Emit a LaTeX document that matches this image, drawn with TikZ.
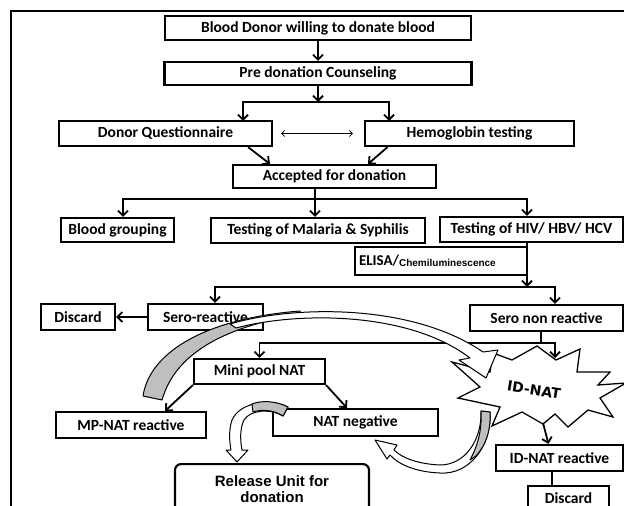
\documentclass[tikz,border=0pt]{standalone}
\usepackage{fontspec}
\setmainfont{Carlito}
\newfontfamily\arialfont{Liberation Sans}
\newfontfamily\heavyfont{DejaVu Sans}
\usetikzlibrary{calc, positioning, arrows.meta}

\tikzset{
    box/.style={draw, line width=2.2pt, minimum height=25pt, inner sep=2pt,
        font=\fontsize{15.5}{17}\selectfont\bfseries},
    arr/.style={line width=1.8pt, -{Straight Barb[length=5pt,width=10pt]}},
    joinline/.style={line width=1.8pt},
    twoway/.style={line width=0.8pt,
        {Straight Barb[length=3pt,width=6pt]}-{Straight Barb[length=3pt,width=6pt]}},
    ribbon/.style={draw, line width=1pt, fill=white, line join=round},
    underside/.style={draw, line width=1pt, fill=gray!50, line join=round}
}

\begin{document}
\begin{tikzpicture}[x=1pt, y=-1pt]

\clip (0,0) rectangle (624,506);
\draw[line width=2pt] (11,506) -- (11,11) -- (624,11);

% boxes
\node[box, minimum width=306pt, minimum height=24pt] (blood) at (318,28) {Blood Donor willing to donate blood};
\node[box, minimum width=307pt, minimum height=23pt] (counsel) at (318,73.5) {Pre donation Counseling};
\node[box, minimum width=213pt] (quest) at (165.5,133.5) {Donor Questionnaire};
\node[box, minimum width=209pt] (hemo) at (469.5,133.5) {Hemoglobin testing};
\node[box, minimum width=203pt, minimum height=23pt] (accept) at (334.5,176.5) {Accepted for donation};
\node[box, minimum width=113pt, minimum height=24pt] (group) at (117.5,230) {Blood grouping};
\node[box, minimum width=214pt] (malaria) at (318,230.5) {Testing of Malaria \& Syphilis};
\node[box, minimum width=183pt] (hiv) at (531.5,229.5) {Testing of HIV/ HBV/ HCV};
\node[box, minimum width=172pt, minimum height=28pt] (elisa) at (441,261)
    {\makebox[164pt][l]{\fontsize{15}{16}\selectfont ELISA/\raisebox{-1.5pt}{\arialfont\fontsize{10}{12}\selectfont Chemiluminescence}}};
\node[box, minimum width=74pt, minimum height=26pt] (discardA) at (78,317) {Discard};
\node[box, minimum width=115pt, minimum height=26pt] (sero) at (205.5,317) {Sero-reactive};
\node[box, minimum width=153pt, minimum height=26pt] (seronon) at (546.5,318) {Sero non reactive};
\node[box, minimum width=131pt] (minipool) at (259.5,371.5) {Mini pool NAT};
\node[box, minimum width=150pt, minimum height=26pt] (mpnat) at (131,425) {MP-NAT reactive};
\node[box, minimum width=165pt, minimum height=27pt] (natneg) at (355.5,422.5) {NAT negative};
\node[box, rounded corners=6pt, minimum width=194pt, minimum height=50pt, anchor=north, align=center,
    font=\arialfont\fontsize{15}{16}\selectfont\bfseries] (release) at (272,463) {Release Unit for\\donation};
\node[box, minimum width=127pt, minimum height=26pt] (idnatr) at (559.5,458) {ID-NAT reactive};
\node[box, minimum width=81pt, minimum height=24pt, anchor=north] (discardB) at (568.5,485) {Discard};

% the ID-NAT burst
\draw[line width=1.3pt, fill=white, line join=miter]
    (452,362) -- (490,372) -- (493,353) -- (512,360) -- (537,346) -- (556,360)
    -- (580,349) -- (577,372) -- (610,372) -- (598,385) -- (626,383) -- (600,398)
    -- (613,417) -- (588,410) -- (568,427) -- (555,414) -- (543,424) -- (522,412)
    -- (492,426) -- (500,407) -- (458,398) -- (480,387) -- cycle;
\node[rotate=-9, font=\heavyfont\fontsize{14}{14}\selectfont\bfseries] (idnat) at (534,390) {ID-NAT};

% junctions and free ends
\coordinate (split1) at (318,102);
\coordinate (questtop) at (243,121);
\coordinate (hemotop) at (389,121);
\coordinate (acc1) at (270,164);
\coordinate (acc2) at (368,164);
\coordinate (split2) at (315,199);
\coordinate (split3) at (527,287);
\coordinate (split4) at (541,343);
\coordinate (idnattop) at (555,358);
\coordinate (mp1) at (165,411);
\coordinate (nn1) at (347,408);
\coordinate (idb) at (543,423);

\foreach \from/\to in {blood/counsel, sero/discardA}
{
    \draw[arr] (\from) -- (\to);
};

\draw[arr] (counsel.south) -- (split1);
\draw[joinline] (questtop |- split1) -- (hemotop |- split1);
\draw[arr] (split1) -| (questtop);
\draw[arr] (split1) -| (hemotop);
\draw[twoway] ([xshift=8pt]quest.east) -- ([xshift=-11pt]hemo.west);
\draw[arr] ([xshift=-25pt]quest.south east) -- (acc1);
\draw[arr] ([xshift=-82pt]hemo.south) -- (acc2);

\draw[joinline] (accept.south -| split2) -- (split2);
\draw[arr] (split2) -| ([xshift=5.5pt]group.north);
\draw[arr] (split2) -- (malaria.north -| split2);
\draw[arr] (split2) -| ([xshift=-4.5pt]hiv.north);

\draw[arr] (hiv.south -| split3) -- (split3);
\draw[arr] (split3) -| ([xshift=9.5pt]sero.north);
\draw[arr] (split3) -| ([xshift=8.5pt]seronon.north);

\draw[joinline] (seronon.south -| split4) -- (split4);
\draw[arr] (split4) -| (minipool.north);
\draw[arr] (split4) -| (idnattop);

\draw[arr] (minipool.south west) -- (mp1);
\draw[arr] (minipool.south east) -- (nn1);
\draw[arr] (idb) -- ([xshift=-11pt]idnatr.north);
\draw[joinline] ([xshift=-7.5pt]idnatr.south) -- ([xshift=-16.5pt]discardB.north);

% curved block arrows
\draw[underside] (143,396) .. controls (150,350) and (210,318) .. (300,311)
    -- (300,314) .. controls (220,328) and (175,355) .. (162,400) -- cycle;
\draw[ribbon] (236,328) .. controls (300,311) and (410,312) .. (470,358)
    -- (459,360) -- (486,378) -- (498,350) -- (483,352)
    .. controls (410,302) and (290,306) .. (230,324) -- cycle;

\draw[ribbon] (490,412) .. controls (492,445) and (470,475) .. (440,473)
    .. controls (415,472) and (398,464) .. (390,455) -- (387,459) -- (375,440) -- (397,445)
    -- (394,450) .. controls (402,458) and (418,464) .. (440,465)
    .. controls (465,465) and (482,440) .. (481,411) -- cycle;
\draw[underside] (490,412) .. controls (491,430) and (486,445) .. (476,456)
    -- (470,460) .. controls (478,445) and (482,430) .. (481,411) -- cycle;

\draw[ribbon] (288,407) .. controls (270,398) and (240,402) .. (232,420)
    .. controls (228,432) and (230,444) .. (231,450) -- (226,450) -- (237,462) -- (248,450)
    -- (242,450) .. controls (240,440) and (240,428) .. (244,420)
    .. controls (250,410) and (270,408) .. (283,416) -- cycle;
\draw[underside] (288,407) .. controls (276,401) and (262,400) .. (252,404)
    -- (253,412) .. controls (262,409) and (274,410) .. (283,416) -- cycle;

\end{tikzpicture}
\end{document}
